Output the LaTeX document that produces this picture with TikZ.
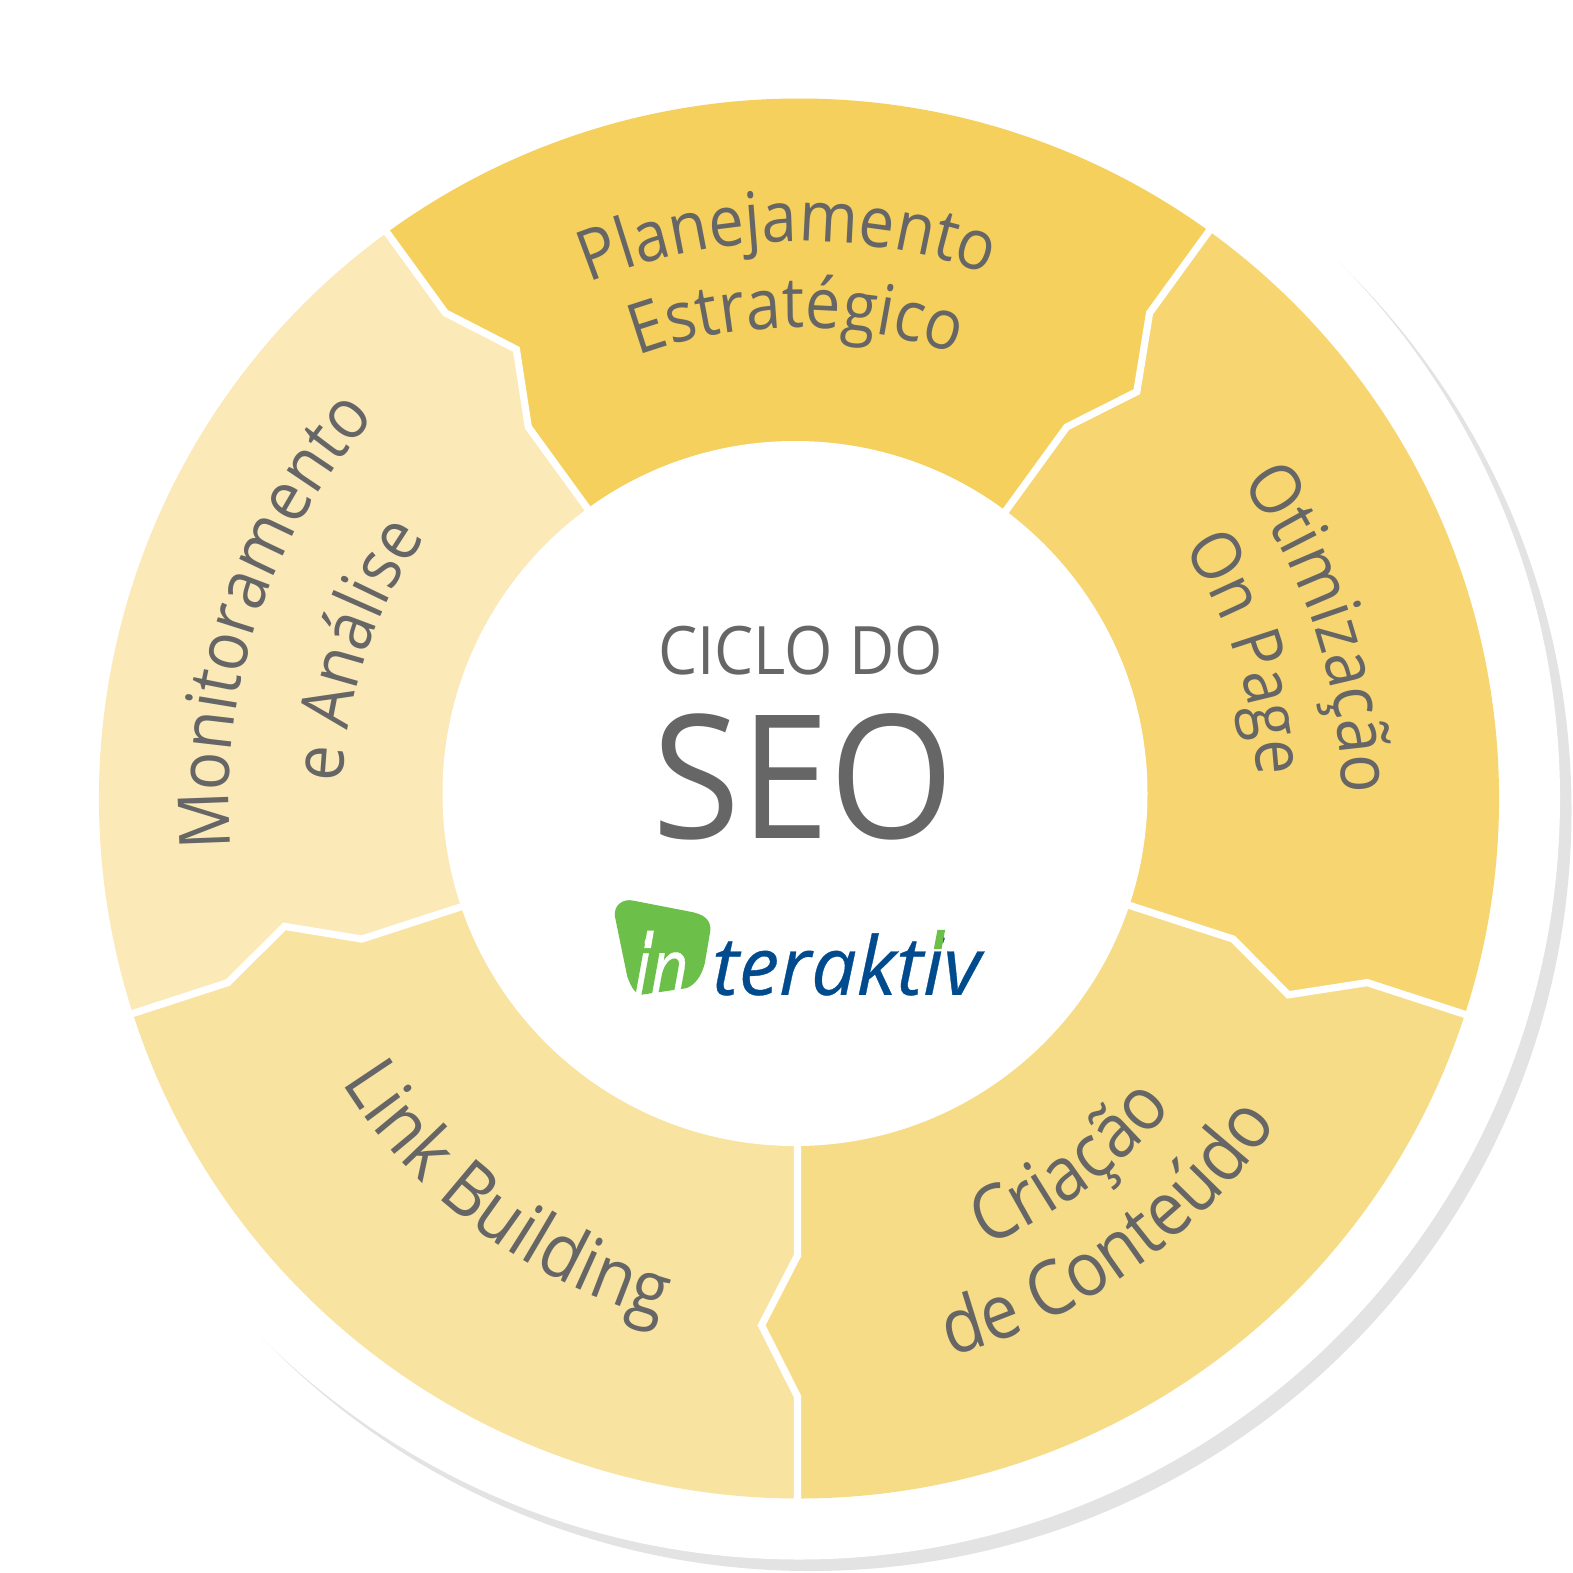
\documentclass[tikz,border=0pt]{standalone}
\usepackage{fontspec}
\setmainfont[FakeStretch=0.9]{Open Sans}
\newfontfamily\titlefont[FakeStretch=0.93]{Open Sans}
\newfontfamily\logofont[FakeBold=0.4]{Open Sans}
\newfontfamily\logoinfont[FakeStretch=0.85,FakeBold=0.4]{Open Sans}
\usetikzlibrary{decorations.text}
\definecolor{labelgray}{HTML}{666666}
\definecolor{shadowgray}{HTML}{E3E3E3}
\definecolor{logogreen}{HTML}{6CC04A}
\definecolor{logoblue}{HTML}{004B8D}
\definecolor{segtop}{HTML}{F5D05C}
\definecolor{segright}{HTML}{F7D570}
\definecolor{seglowright}{HTML}{F7DC88}
\definecolor{seglowleft}{HTML}{F9E3A0}
\definecolor{segleft}{HTML}{FBE9B8}
\protected\def\segfont#1{\fontsize{#1}{24}\selectfont}
\tikzstyle{seam} = [draw=white,line width=2.05pt,miter limit=10]
\tikzstyle{seglabel} = [decorate,decoration={text along path,text align=center,text color=labelgray,text={#1}}]
\tikzstyle{title text} = [text=labelgray,anchor=base,inner sep=0pt]

\begin{document}
\begin{tikzpicture}[x=0.01cm,y=0.01cm]
    \useasboundingbox (-799,-773.5) rectangle (774,798.5);
    % Shadow and white plate
    \fill[shadowgray] (11.5,-11.5) circle (761);
    \fill[white] (0,0) circle (761);

    % First we draw the five segments
    \foreach \a/\col in {54/segtop, -18/segright, -90/seglowright, -162/seglowleft, 126/segleft}
        \fill[\col] (\a:700) arc[start angle=\a, delta angle=72, radius=700]
            -- (\a+72:599) -- (\a+72-3.9:529) -- (\a+72:458) -- (0,0)
            -- (\a:458) -- (\a-3.9:529) -- (\a:599) -- cycle;

    % Seams between the segments
    \begin{scope}[shift={(-1.5,1)}]
    \foreach \a in {54, -18, -90, -162, 126}
        \path[seam] (\a:300) -- (\a:458) -- (\a-3.9:529) -- (\a:599) -- (\a:710);
    \end{scope}
    \fill[white] (-4,5) circle (352.5);

    % Labels on the segments
    \foreach \rad/\from/\to/\sz/\name in {557/132.4/50/20/Planejamento, 471/124.3/56.3/19.9/Estratégico,
        543/42/-6/20.1/Otimização, 459/39/-3/19.6/On Page,
        485/-85/-22/21.4/Criação, 578/-91/-18/21.5/de Conteúdo,
        538/-165/-88/21.5/Link Building,
        570/192/131/20.1/Monitoramento, 456/194/129/19.9/e Análise}
        \path[seglabel={|\segfont{\sz}|\name}] (\from:\rad) arc[start angle=\from, end angle=\to, radius=\rad];

    % Centre
    \node[title text,font=\titlefont\fontsize{19}{24}\selectfont] (ciclo) at (1.5,124.5) {CICLO DO};
    \node[title text,font=\titlefont\fontsize{49}{58}\selectfont] (seo) at (4,-39.5) {SEO};

    % Logo, in the coordinates of a 3x crop
    \begin{scope}[shift={(-209,-81.5)},x=0.00333cm,y=-0.00333cm]
        \fill[logogreen] (75,110) .. controls (70,75) and (100,55) .. (130,62) -- (300,95)
            .. controls (345,103) and (362,120) .. (362,150) -- (345,250)
            .. controls (335,290) and (315,315) .. (290,325) -- (152,345)
            .. controls (135,340) and (125,325) .. (112,290) -- cycle;
        \node[anchor=base west,inner sep=0pt,text=white,font=\logoinfont\itshape\fontsize{22}{28}\selectfont] (logoin) at (130,345) {in};
        \fill[white] (172,152) -- (192,152) -- (183,205) -- (163,205) -- cycle;
        \node[anchor=base west,inner sep=0pt,text=logoblue,font=\logofont\itshape\fontsize{23}{28}\selectfont] (logotext) at (365,345) {teraktiv};
        \fill[logogreen] (1044,150) -- (1067,150) -- (1056,208) -- (1033,208) -- cycle;
    \end{scope}
\end{tikzpicture}
\end{document}
